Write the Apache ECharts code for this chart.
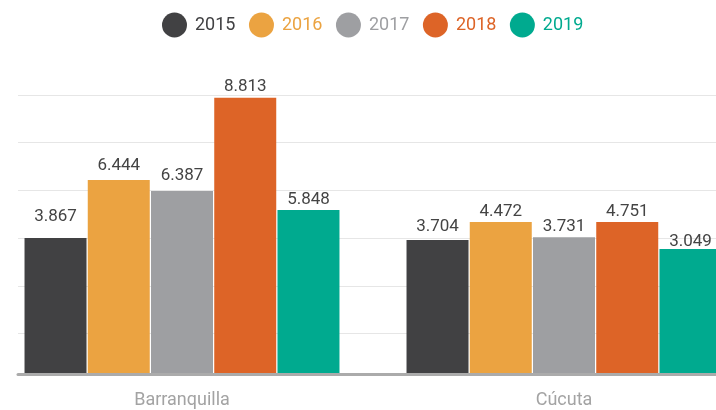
<!DOCTYPE html>
<html>
<head>
<meta charset="utf-8">
<script src="https://cdn.jsdelivr.net/npm/echarts@6/dist/echarts.min.js"></script>
<style>
html, body { margin: 0; padding: 0; background: #fff; }
#chart { width: 716px; height: 410px; }
</style>
</head>
<body>
<div id="chart"></div>
<script>
var categories = ['Barranquilla', 'Cúcuta'];
var years = ['2015', '2016', '2017', '2018', '2019'];

// bar heights as drawn, one gridline step = 1
var values2015 = [2.86, 2.82];
var values2016 = [4.08, 3.20];
var values2017 = [3.85, 2.88];
var values2018 = [5.80, 3.20];
var values2019 = [3.45, 2.63];

// printed labels
var labels2015 = ['3.867', '3.704'];
var labels2016 = ['6.444', '4.472'];
var labels2017 = ['6.387', '3.731'];
var labels2018 = ['8.813', '4.751'];
var labels2019 = ['5.848', '3.049'];

var barValues = [values2015, values2016, values2017, values2018, values2019];
var barLabels = [labels2015, labels2016, labels2017, labels2018, labels2019];
var colors = ['#414143', '#eba341', '#9e9fa2', '#dd6427', '#00aa8f'];
// label gap above each bar (style only)
var labelGaps = [[13, 5], [6, 1.5], [7, 2], [3, 1.5], [1.5, -1.5]];

var myChart = echarts.init(document.getElementById('chart'));

var series = years.map(function (year, i) {
    return {
        name: year,
        type: 'bar',
        xAxisIndex: 1,
        yAxisIndex: 1,
        barWidth: 62,
        barGap: '2%',
        itemStyle: { color: colors[i] },
        label: {
            show: true,
            position: 'top',
            color: '#444',
            fontSize: 17,
            fontFamily: 'Roboto',
            formatter: function (p) {
                return barLabels[i][p.dataIndex];
            }
        },
        data: barValues[i].map(function (v, j) {
            return { value: v, label: { distance: labelGaps[i][j] } };
        })
    };
});

var option = {
    animation: false,
    legend: {
        left: 157,
        top: 7.5,
        icon: 'circle',
        itemWidth: 25,
        itemHeight: 25,
        itemGap: 13.5,
        textStyle: { fontSize: 18, fontFamily: 'Roboto', padding: [0, 0, 0, 3] },
        data: years.map(function (y, i) {
            return { name: y, textStyle: { color: colors[i] } };
        })
    },
    grid: [
        { left: 18, right: 0, top: 95, bottom: 28.8, outerBoundsMode: 'none' },
        { left: -9, width: 764, top: 95, bottom: 28.8, outerBoundsMode: 'none' }
    ],
    xAxis: [
        {
            gridIndex: 0,
            type: 'value',
            min: 0,
            max: 1,
            z: 10,
            axisLine: { show: true, lineStyle: { color: '#ababab', width: 3 } },
            axisTick: { show: false },
            axisLabel: { show: false },
            splitLine: { show: false }
        },
        {
            gridIndex: 1,
            type: 'category',
            data: categories,
            axisLine: { show: false },
            axisTick: { show: false },
            axisLabel: { color: '#a3a3a3', fontSize: 18, fontFamily: 'Roboto', margin: 10 }
        }
    ],
    yAxis: [
        {
            gridIndex: 0,
            type: 'value',
            min: -0.14,
            max: 5.86,
            interval: 1,
            axisLine: { show: false },
            axisTick: { show: false },
            axisLabel: { show: false },
            splitLine: { show: true, showMinLine: false, lineStyle: { color: '#e6e6e6', width: 1 } }
        },
        {
            gridIndex: 1,
            type: 'value',
            min: -0.14,
            max: 5.86,
            show: false
        }
    ],
    series: series
};

myChart.setOption(option);
window.addEventListener('resize', function () {
    myChart.resize();
});
</script>
</body>
</html>
